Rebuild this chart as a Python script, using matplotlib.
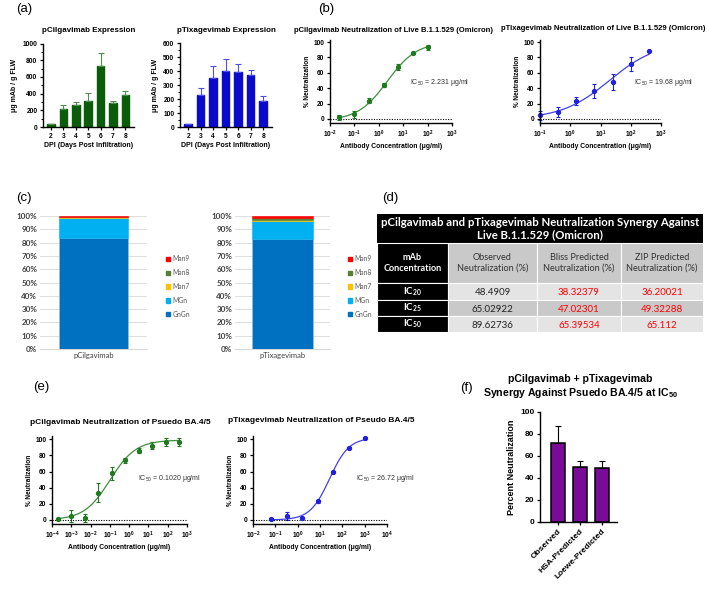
import numpy as np
import matplotlib
matplotlib.use('Agg')
import matplotlib.pyplot as plt
from matplotlib.ticker import LogLocator, NullLocator, MultipleLocator, FixedLocator
from matplotlib.patches import Rectangle, Patch

plt.rcParams['font.family'] = ['Liberation Sans', 'DejaVu Sans']
plt.rcParams['mathtext.fontset'] = 'custom'
plt.rcParams['mathtext.rm'] = 'Liberation Sans'
plt.rcParams['mathtext.sf'] = 'Liberation Sans:bold'
plt.rcParams['mathtext.bf'] = 'Lato:bold'

# ---- (a) expression ----
days = [2, 3, 4, 5, 6, 7, 8]
cil_expr = [30, 215, 260, 315, 725, 290, 380]
cil_expr_err = [10, 50, 40, 95, 160, 20, 50]
tix_expr = [20, 228, 352, 402, 393, 375, 190]
tix_expr_err = [5, 50, 85, 85, 60, 35, 30]

# ---- (b) live B.1.1.529 neutralization ----
live_cil_conc = [0.0244, 0.0977, 0.391, 1.5625, 6.25, 25, 100]
live_cil_neut = [2, 6, 24, 44, 68, 86, 93]
live_cil_err = [3, 5, 3, 3, 4, 1, 3]
live_tix_conc = [0.0977, 0.391, 1.5625, 6.25, 25, 100, 400]
live_tix_neut = [5, 9, 23, 36, 48, 71, 88]
live_tix_err = [6, 7, 5, 9, 10, 9, 0]
# fitted 4PL parameters (bottom, top, IC50, hill)
live_cil_fit = (-2, 100, 2.231, 0.72)
live_tix_fit = (0, 100, 19.68, 0.55)

# ---- (c) glycans ----
glycans = ['GnGn', 'MGn', 'Man7', 'Man8', 'Man9']
glycan_colors = ['#0070C0', '#00B0F0', '#FFC000', '#548235', '#FF0000']
cil_glycan = [83.2, 15.0, 0.7, 0.7, 0.4]
tix_glycan = [82.8, 13.5, 1.0, 1.4, 1.3]

# ---- (d) synergy table ----
table_title = 'pCilgavimab and pTixagevimab Neutralization Synergy Against\nLive B.1.1.529 (Omicron)'
table_cols = ['mAb\nConcentration', 'Observed\nNeutralization (%)',
              'Bliss Predicted\nNeutralization (%)', 'ZIP Predicted\nNeutralization (%)']
table_rows = ['20', '25', '50']
observed = ['48.4909', '65.02922', '89.62736']
bliss = ['38.32379', '47.02301', '65.39534']
zip_pred = ['36.20021', '49.32288', '65.112']

# ---- (e) pseudo BA.4/5 neutralization ----
ps_cil_conc = [0.000205, 0.001024, 0.00512, 0.0256, 0.128, 0.64, 3.2, 16, 80, 400]
ps_cil_neut = [1, 5, 2, 34, 58, 74, 86, 92, 96, 97]
ps_cil_err = [1, 7, 5, 12, 8, 3, 3, 4, 5, 5]
ps_tix_conc = [0.064, 0.32, 1.6, 8, 40, 200, 1000]
ps_tix_neut = [1, 5, 3, 23, 60, 89, 101]
ps_tix_err = [1, 5, 1, 2, 1, 1, 1]
ps_cil_fit = (0, 99, 0.1020, 0.65)
ps_tix_fit = (0, 102, 26.72, 1.0)

# ---- (f) synergy at IC50 ----
syn_labels = ['Observed', 'HSA-Predicted', 'Loewe-Predicted']
syn_values = [72, 50, 49.5]
syn_err = [15, 5.5, 6]

W, H = 709, 589
fig = plt.figure(figsize=(W / 100, H / 100), dpi=100)


def px_axes(x0, y0, x1, y1):
    return fig.add_axes([x0 / W, 1 - y1 / H, (x1 - x0) / W, (y1 - y0) / H])


def fig_text(x, y, s, **kw):
    kw.setdefault('ha', 'center')
    kw.setdefault('va', 'center')
    fig.text(x / W, 1 - y / H, s, **kw)


def prism(ax, fs=4.5):
    for s in ['top', 'right']:
        ax.spines[s].set_visible(False)
    for s in ['left', 'bottom']:
        ax.spines[s].set_linewidth(1.0)
    ax.tick_params(direction='out', length=2.5, width=0.9, labelsize=fs, pad=1.5)
    for lab in ax.get_xticklabels() + ax.get_yticklabels():
        lab.set_fontweight('bold')


def four_pl(x, p):
    bottom, top, ic50, hill = p
    return bottom + (top - bottom) / (1 + (ic50 / x) ** hill)


def panel_label(x, y, s):
    fig_text(x, y, s, fontsize=9.5, ha='left')


# ---------------- (a) ----------------
panel_label(16, 9, '(a)')
for (x0, x1, vals, errs, col, ecol, ymax, major, minor, title) in [
        (43, 134, cil_expr, cil_expr_err, '#0A5C0A', '#4E8E4E', 1000, 200, 100, 'pCilgavimab Expression'),
        (180, 272, tix_expr, tix_expr_err, '#0A0ACC', '#4F4FE0', 600, 100, 50, 'pTixagevimab Expression')]:
    ax = px_axes(x0, 43.5, x1, 127)
    ax.bar(days, vals, width=0.6, color=col, edgecolor=col)
    ax.errorbar(days, vals, yerr=[np.zeros(len(errs)), errs], fmt='none',
                ecolor=ecol, elinewidth=0.8, capsize=2, capthick=0.8)
    ax.set_xlim(1.35, 8.7)
    ax.set_ylim(0, ymax)
    ax.yaxis.set_major_locator(MultipleLocator(major))
    ax.yaxis.set_minor_locator(MultipleLocator(minor))
    ax.set_xticks(days)
    prism(ax, fs=4.8)
    ax.tick_params(axis='y', which='minor', length=1.5, width=0.7)
    fig_text((x0 + x1) / 2, 30, title, fontsize=5.8, fontweight='bold')
    ax.set_xlabel('DPI (Days Post Infiltration)', fontsize=5.0, fontweight='bold', labelpad=2)
    ax.set_ylabel('μg mAb / g FLW', fontsize=5, fontweight='bold', labelpad=3)


# ---------------- (b) and (e) dose-response ----------------
def dose_panel(box, conc, neut, err, fit, col, xlim, ylim, title, title_pos, title_fs,
               ic_text, ic_pos, fs=4.5):
    ax = px_axes(*box)
    xs = np.logspace(np.log10(min(conc)), np.log10(max(conc)), 200)
    ax.plot(xs, four_pl(xs, fit), color=col, lw=0.9, alpha=0.85)
    ax.errorbar(conc, neut, yerr=err, fmt='o', color=col, ms=2.8, ecolor=col,
                elinewidth=0.8, capsize=1.6, capthick=0.8, clip_on=False)
    ax.axhline(0, color='black', lw=0.8, ls=(0, (1, 1.3)))
    ax.set_xscale('log')
    ax.set_xlim(*xlim)
    ax.set_ylim(*ylim)
    ax.xaxis.set_major_locator(LogLocator(base=10, numticks=20))
    ax.xaxis.set_minor_locator(NullLocator())
    ax.yaxis.set_major_locator(FixedLocator([0, 20, 40, 60, 80, 100]))
    prism(ax, fs=fs)
    fig_text(title_pos[0], title_pos[1], title, fontsize=title_fs, fontweight='bold')
    ax.set_xlabel('Antibody Concentration (μg/ml)', fontsize=4.9, fontweight='bold', labelpad=2)
    ax.set_ylabel('% Neutralization', fontsize=4.7, fontweight='bold', labelpad=2)
    fig_text(ic_pos[0], ic_pos[1], ic_text, fontsize=5, color='#333333', ha='left')
    return ax


panel_label(318, 9, '(b)')
dose_panel((330, 40, 452, 123), live_cil_conc, live_cil_neut, live_cil_err, live_cil_fit,
           '#1F7A1F', (1e-2, 1e3), (-5.2, 102.6),
           'pCilgavimab Neutralization of Live B.1.1.529 (Omicron)', (393, 30), 5.5,
           'IC$_{50}$ = 2.231 μg/ml', (410, 82), fs=4.7)
dose_panel((540, 40, 661, 123), live_tix_conc, live_tix_neut, live_tix_err, live_tix_fit,
           '#2020E0', (1e-1, 1e3), (-5.2, 102.6),
           'pTixagevimab Neutralization of Live B.1.1.529 (Omicron)', (603, 29), 5.5,
           'IC$_{50}$ = 19.68 μg/ml', (634, 82), fs=4.7)

panel_label(33, 387, '(e)')
dose_panel((52, 436, 187, 524), ps_cil_conc, ps_cil_neut, ps_cil_err, ps_cil_fit,
           '#1F7A1F', (1e-4, 1e3), (-5, 104),
           'pCilgavimab Neutralization of Psuedo BA.4/5', (120, 422), 6.0,
           'IC$_{50}$ = 0.1020 μg/ml', (138, 479), fs=4.8)
dose_panel((253, 436, 387, 524), ps_tix_conc, ps_tix_neut, ps_tix_err, ps_tix_fit,
           '#2020E0', (1e-2, 1e4), (-5, 104),
           'pTixagevimab Neutralization of Pseudo BA.4/5', (321, 421), 6.0,
           'IC$_{50}$ = 26.72 μg/ml', (356, 479), fs=4.8)

# ---------------- (c) glycan stacked bars ----------------
panel_label(16, 198, '(c)')
for (x0, x1, vals, name) in [(40, 147, cil_glycan, 'pCilgavimab'),
                             (235, 330, tix_glycan, 'pTixagevimab')]:
    ax = px_axes(x0, 216, x1, 349)
    bottom = 0
    handles = []
    for g, v, c in zip(glycans, vals, glycan_colors):
        ax.bar([0], [v], bottom=bottom, width=0.64, color=c,
               edgecolor='#9DC3E6' if g == 'GnGn' else c, linewidth=0.4, zorder=3)
        bottom += v
        handles.append(Patch(color=c, label=g))
    ax.set_xlim(-0.5, 0.5)
    ax.set_ylim(0, 100)
    ax.set_yticks(np.arange(0, 101, 10))
    ax.set_yticklabels([f'{t}%' for t in range(0, 101, 10)], fontsize=5.8,
                       fontweight='bold', color='#404040', family='Lato')
    ax.set_xticks([0])
    ax.set_xticklabels([name], fontsize=5.5, color='#404040', family='Lato')
    ax.grid(axis='y', color='#D9D9D9', lw=0.6, zorder=0)
    for s in ['top', 'right', 'left']:
        ax.spines[s].set_visible(False)
    ax.spines['bottom'].set_color('#D9D9D9')
    ax.tick_params(length=0, pad=2)
    ax.legend(handles[::-1], glycans[::-1], loc='center left', bbox_to_anchor=(1.12, 0.47),
              frameon=False, prop={'family': 'Lato', 'size': 4.9}, labelcolor='#595959',
              handlelength=0.6, handleheight=0.6, handletextpad=0.4, labelspacing=1.0)

# ---------------- (d) table ----------------
panel_label(382, 198, '(d)')
tax = px_axes(377, 214, 703, 332)
tax.set_xlim(377, 703)
tax.set_ylim(332, 214)
tax.axis('off')
col_edges = [377, 448, 537, 621, 703]
row_tops = [283, 300, 316]
row_bots = [300, 316, 332]
row_fill = ['#E4E4E4', '#C9C9C9', '#E4E4E4']
tax.add_patch(Rectangle((377, 214), 326, 29, color='black'))
tax.text(540, 228.5, table_title, ha='center', va='center', color='white', fontsize=8.2,
         fontweight='bold', family='Lato', linespacing=1.05)
for j in range(4):
    xa, xb = col_edges[j], col_edges[j + 1]
    tax.add_patch(Rectangle((xa, 243), xb - xa, 40, facecolor='black' if j == 0 else '#C9C9C9',
                            edgecolor='white', lw=0.8))
    tax.text((xa + xb) / 2, 263, table_cols[j], ha='center', va='center', fontsize=6.6,
             family='Lato', color='white' if j == 0 else '#333333',
             fontweight='bold' if j == 0 else 'normal', linespacing=1.25)
for i in range(3):
    ya, yb = row_tops[i], row_bots[i]
    cells = [table_rows[i], observed[i], bliss[i], zip_pred[i]]
    for j in range(4):
        xa, xb = col_edges[j], col_edges[j + 1]
        tax.add_patch(Rectangle((xa, ya), xb - xa, yb - ya,
                                facecolor='black' if j == 0 else row_fill[i],
                                edgecolor='white', lw=0.8))
        if j == 0:
            tax.text((xa + xb) / 2, (ya + yb) / 2, '$\\mathbf{IC_{%s}}$' % cells[0],
                     ha='center', va='center', fontsize=7, color='white')
        else:
            tax.text((xa + xb) / 2, (ya + yb) / 2 + 1, cells[j], ha='center', va='center',
                     fontsize=7, family='Lato', color='#222222' if j == 1 else '#FF0000')

# ---------------- (f) synergy bars ----------------
fig_text(466, 388, '(f)', fontsize=9.5)
fig_text(580, 387,
         'pCilgavimab + pTixagevimab\nSynergy Against Psuedo BA.4/5 at IC$_\\mathsf{50}$',
         fontsize=7.6, fontweight='bold', linespacing=1.1)
fax = px_axes(540, 412, 617, 522)
xpos = np.arange(len(syn_labels))
fax.bar(xpos, syn_values, width=0.64, color='#7A0A98', edgecolor='black', linewidth=1.1)
fax.errorbar(xpos, syn_values, yerr=[np.zeros(3), syn_err], fmt='none', ecolor='black',
             elinewidth=0.8, capsize=2.5, capthick=0.8)
fax.set_xlim(-0.82, 2.68)
fax.set_ylim(0, 100)
fax.set_yticks([0, 20, 40, 60, 80, 100])
fax.set_xticks(xpos)
fax.set_xticklabels(syn_labels, rotation=45, ha='right', rotation_mode='anchor')
prism(fax, fs=6.0)
fax.set_ylabel('Percent Neutralization', fontsize=6.5, fontweight='bold', labelpad=3)

fig.savefig('out.png', dpi=100)
